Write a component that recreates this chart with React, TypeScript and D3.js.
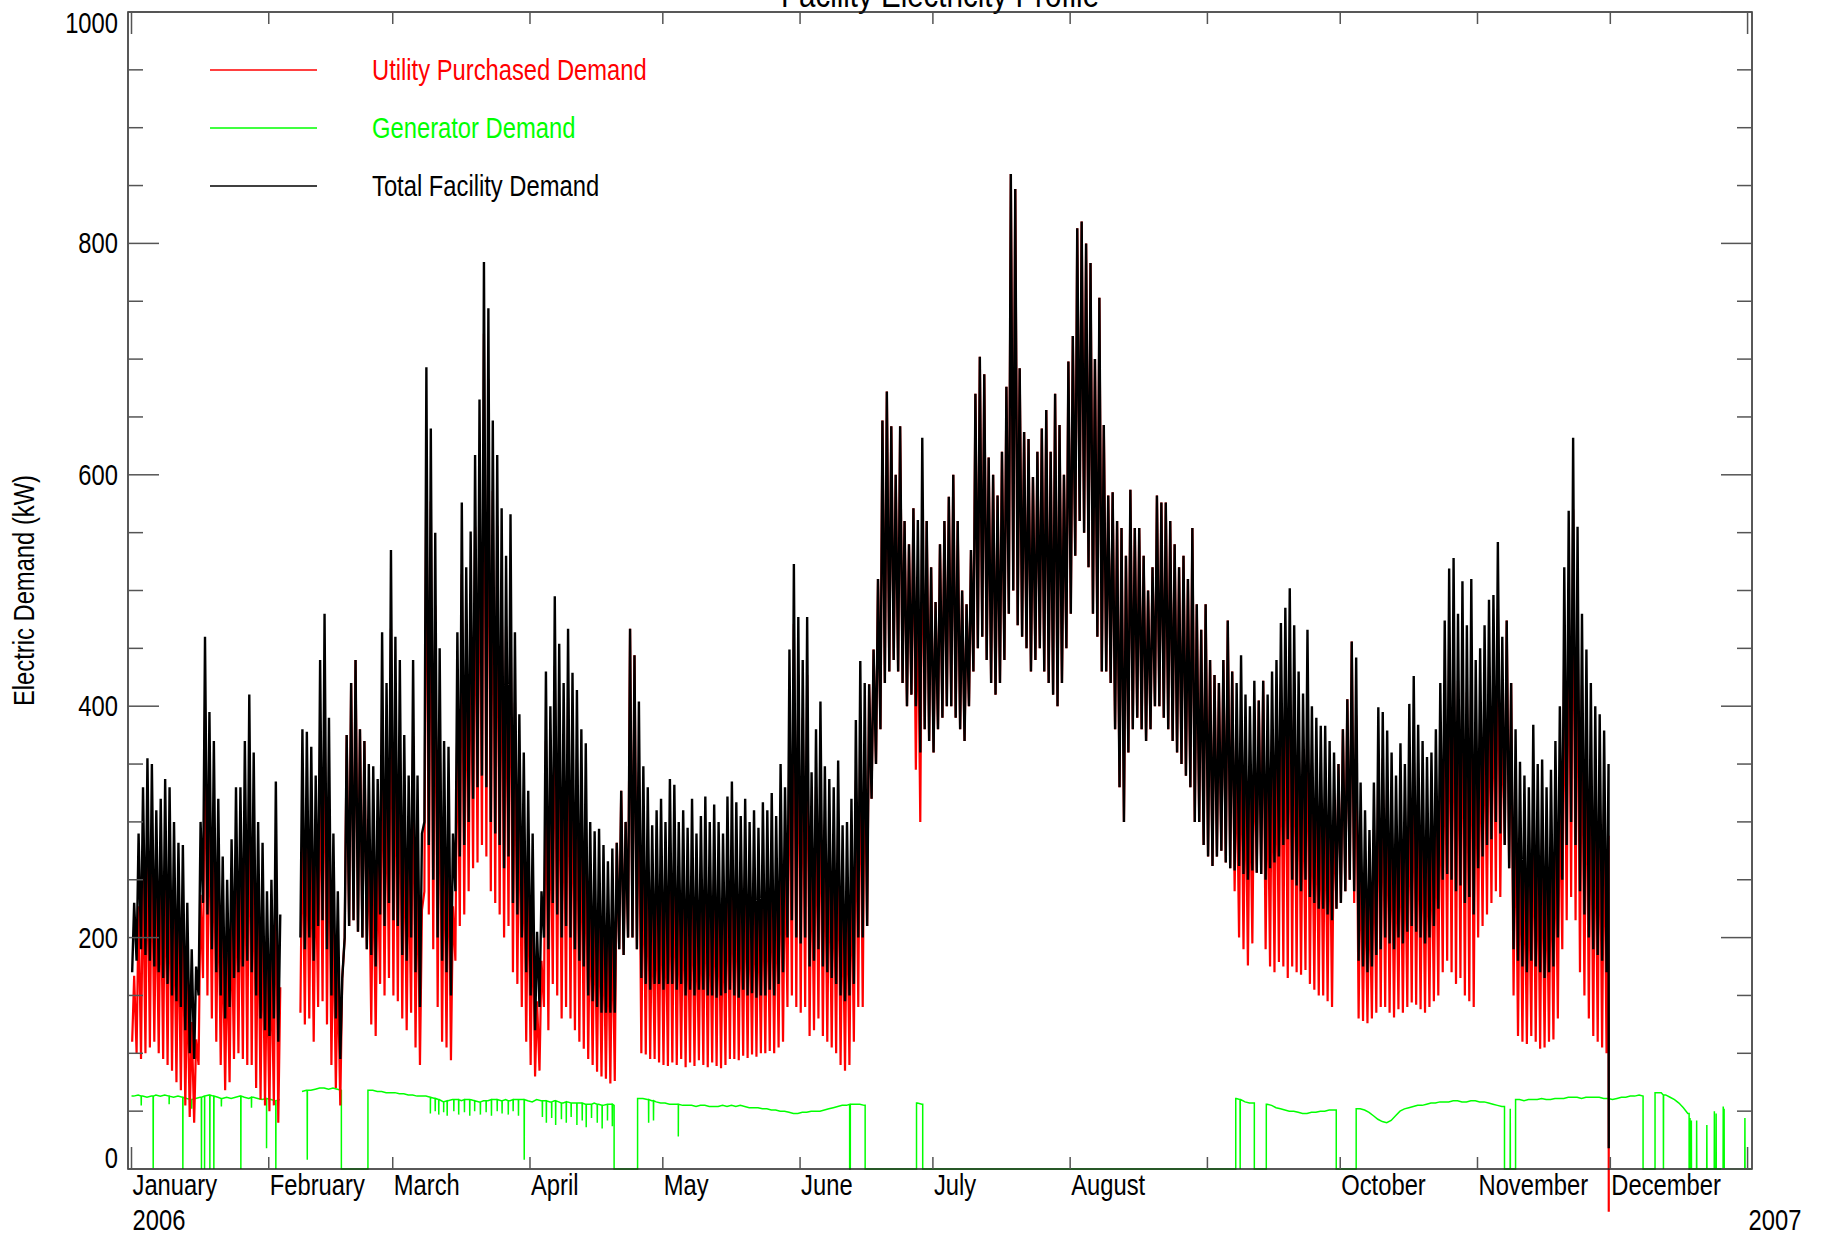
"use client"

import { useEffect, useRef } from "react"
import * as d3 from "d3"

const WIDTH = 1826
const HEIGHT = 1238
const FONT = '"Liberation Sans", Arial, sans-serif'
const NARROW = 0.82 // horizontal squeeze to get the narrow face of the original

// one value per day of 2006 (index 0 = Jan 1); null = no data
const totalPeak: (number | null)[] = [
  230, 290, 330, 355, 350, 310, 320,
  337, 330, 300, 282, 280, 230, 190,
  175, 300, 460, 395, 370, 320, 270,
  250, 285, 330, 330, 370, 410, 360,
  300, 282, 240, 250, 335, 220, null,
  null, null, null, 380, 378, 365, 340,
  440, 480, 390, 290, 240, 165, 375,
  420, 440, 380, 370, 350, 348, 337,
  464, 420, 535, 460, 440, 375, 340,
  440, 340, 290, 693, 640, 550, 450,
  370, 365, 290, 464, 576, 520, 551,
  617, 665, 784, 744, 647, 617, 571,
  530, 566, 464, 393, 360, 327, 290,
  205, 240, 430, 400, 495, 454, 420,
  467, 429, 414, 380, 368, 300, 292,
  294, 280, 266, 277, 282, 327, 300,
  467, 444, 404, 348, 330, 297, 310,
  320, 300, 337, 332, 300, 310, 295,
  320, 290, 305, 322, 300, 315, 300,
  290, 322, 335, 317, 305, 320, 300,
  310, 295, 317, 310, 325, 305, 350,
  330, 449, 523, 477, 440, 477, 343,
  380, 404, 348, 337, 330, 353, 297,
  300, 320, 388, 439, 420, 419, 449,
  510, 647, 672, 642, 600, 642, 560,
  540, 571, 561, 632, 560, 520, 490,
  540, 560, 581, 600, 560, 500, 488,
  535, 670, 702, 687, 615, 600, 582,
  620, 676, 860, 847, 692, 637, 631,
  598, 620, 640, 656, 620, 670, 643,
  600, 698, 720, 813, 819, 800, 783,
  700, 753, 643, 582, 585, 560, 554,
  530, 587, 554, 554, 530, 500, 520,
  582, 576, 576, 560, 540, 520, 530,
  510, 554, 488, 466, 488, 440, 427,
  420, 440, 474, 430, 420, 444, 410,
  400, 422, 405, 422, 410, 430, 440,
  472, 485, 502, 470, 430, 411, 466,
  400, 390, 383, 383, 370, 360, 350,
  380, 406, 456, 442, 334, 310, 293,
  334, 399, 395, 379, 360, 340, 368,
  350, 402, 426, 384, 370, 356, 360,
  380, 420, 474, 519, 528, 480, 508,
  470, 510, 440, 450, 470, 492, 496,
  542, 460, 474, 420, 380, 352, 340,
  330, 384, 350, 354, 330, 345, 370,
  400, 520, 569, 632, 555, 480, 449,
  420, 400, 393, 379, 350, null, null,
  null, null, null, null, null, null, null,
  null, null, null, null, null, null, null,
  null, null, null, null, null, null, null,
  null, null, null, null, null, null, null,
  null,
]

const totalBase: (number | null)[] = [
  170, 180, 190, 185, 180, 175, 170,
  165, 160, 150, 145, 140, 120, 100,
  95, 150, 230, 220, 190, 170, 150,
  130, 140, 165, 170, 175, 180, 170,
  150, 130, 120, 115, 130, 110, null,
  null, null, null, 200, 190, 200, 180,
  210, 215, 190, 150, 130, 95, 200,
  210, 215, 205, 200, 190, 185, 175,
  220, 210, 230, 215, 210, 185, 180,
  200, 170, 140, 300, 280, 250, 200,
  180, 170, 150, 240, 270, 280, 300,
  320, 330, 340, 330, 300, 290, 280,
  260, 270, 230, 220, 200, 170, 150,
  120, 140, 200, 190, 230, 220, 200,
  210, 200, 190, 180, 175, 150, 145,
  140, 135, 135, 135, 135, 190, 185,
  200, 200, 190, 165, 160, 155, 160,
  160, 155, 160, 160, 155, 160, 150,
  155, 150, 155, 155, 150, 150, 148,
  150, 152, 155, 150, 148, 155, 150,
  152, 148, 150, 150, 155, 150, 160,
  170, 200, 215, 200, 195, 200, 175,
  180, 190, 175, 170, 165, 160, 150,
  145, 150, 160, 200, 200, 210, 320,
  350, 380, 420, 430, 440, 430, 420,
  400, 410, 400, 360, 380, 370, 360,
  380, 390, 400, 400, 390, 380, 370,
  400, 430, 450, 460, 440, 420, 410,
  420, 440, 480, 500, 470, 460, 450,
  430, 440, 450, 430, 420, 410, 400,
  420, 450, 480, 530, 560, 550, 520,
  480, 460, 430, 430, 420, 380, 330,
  300, 360, 380, 390, 380, 370, 380,
  400, 400, 390, 380, 370, 360, 350,
  340, 330, 300, 300, 280, 270, 262,
  270, 275, 265, 260, 258, 262, 255,
  250, 258, 256, 255, 250, 260, 265,
  270, 280, 285, 250, 245, 240, 250,
  235, 230, 225, 225, 220, 215, 225,
  230, 240, 250, 240, 180, 175, 170,
  175, 185, 190, 200, 195, 190, 200,
  195, 205, 210, 205, 200, 195, 200,
  210, 225, 250, 255, 250, 240, 245,
  230, 235, 220, 260, 270, 280, 285,
  300, 290, 280, 260, 190, 180, 175,
  170, 180, 175, 170, 165, 170, 175,
  200, 250, 280, 300, 280, 240, 220,
  200, 190, 185, 180, 170, null, null,
  null, null, null, null, null, null, null,
  null, null, null, null, null, null, null,
  null, null, null, null, null, null, null,
  null, null, null, null, null, null, null,
  null,
]

const utilityPeak: (number | null)[] = [
  167, 227, 267, 292, 287, 247, 257,
  274, 267, 237, 219, 217, 167, 127,
  112, 237, 397, 332, 307, 257, 207,
  187, 222, 267, 267, 307, 347, 297,
  237, 219, 177, 187, 272, 157, null,
  null, null, null, 312, 310, 297, 272,
  372, 412, 322, 222, 172, 165, 375,
  420, 440, 380, 370, 282, 280, 269,
  396, 352, 467, 394, 374, 309, 274,
  374, 274, 224, 630, 577, 487, 387,
  307, 302, 227, 402, 514, 458, 489,
  555, 603, 722, 683, 586, 556, 510,
  469, 505, 403, 333, 300, 267, 230,
  145, 180, 370, 340, 435, 394, 360,
  407, 369, 354, 320, 308, 240, 232,
  234, 220, 206, 217, 282, 327, 300,
  467, 444, 343, 288, 270, 237, 250,
  260, 240, 277, 274, 242, 252, 237,
  262, 232, 247, 266, 244, 259, 244,
  234, 266, 279, 263, 251, 266, 246,
  256, 241, 263, 258, 273, 253, 298,
  278, 397, 471, 427, 390, 427, 293,
  330, 354, 298, 285, 278, 301, 245,
  248, 268, 336, 387, 368, 419, 449,
  510, 647, 672, 642, 600, 642, 560,
  540, 571, 503, 574, 560, 520, 490,
  540, 560, 581, 600, 560, 500, 488,
  535, 670, 702, 687, 615, 600, 582,
  620, 676, 860, 847, 692, 637, 631,
  598, 620, 640, 656, 620, 670, 643,
  600, 698, 720, 813, 819, 800, 783,
  700, 753, 643, 582, 585, 560, 554,
  530, 587, 554, 554, 530, 500, 520,
  582, 576, 576, 560, 540, 520, 530,
  510, 554, 488, 466, 488, 440, 427,
  420, 440, 474, 430, 358, 384, 352,
  343, 365, 405, 422, 353, 375, 386,
  419, 433, 451, 420, 381, 362, 417,
  350, 340, 333, 333, 320, 310, 350,
  380, 406, 456, 392, 284, 262, 250,
  294, 359, 355, 335, 313, 290, 316,
  296, 347, 370, 327, 313, 299, 303,
  323, 363, 417, 461, 470, 422, 450,
  412, 452, 382, 392, 412, 434, 440,
  484, 402, 474, 420, 320, 292, 280,
  270, 324, 290, 294, 270, 285, 310,
  338, 458, 507, 570, 493, 418, 387,
  358, 338, 331, 317, 288, null, null,
  null, null, null, null, null, null, null,
  null, null, null, null, null, null, null,
  null, null, null, null, null, null, null,
  null, null, null, null, null, null, null,
  null,
]

const utilityBase: (number | null)[] = [
  110, 100, 95, 100, 105, 110, 100,
  95, 90, 85, 75, 68, 55, 45,
  40, 90, 165, 150, 130, 110, 90,
  68, 75, 95, 100, 95, 90, 90,
  70, 60, 55, 50, 55, 40, null,
  null, null, null, 135, 125, 130, 110,
  140, 145, 125, 90, 70, 55, 200,
  210, 215, 205, 200, 190, 125, 115,
  160, 150, 165, 150, 145, 130, 120,
  135, 105, 90, 240, 220, 190, 140,
  110, 105, 94, 180, 210, 220, 240,
  260, 265, 280, 270, 240, 230, 220,
  200, 210, 170, 160, 140, 110, 90,
  80, 85, 140, 120, 160, 150, 130,
  140, 130, 120, 110, 104, 95, 90,
  84, 80, 78, 74, 76, 190, 185,
  200, 200, 190, 100, 99, 95, 95,
  92, 90, 89, 92, 90, 95, 88,
  92, 89, 94, 90, 88, 92, 89,
  87, 90, 95, 95, 94, 98, 96,
  99, 97, 100, 100, 102, 100, 105,
  110, 140, 150, 140, 135, 140, 115,
  120, 130, 115, 110, 105, 100, 90,
  85, 90, 110, 140, 140, 210, 320,
  350, 380, 420, 430, 440, 430, 420,
  400, 410, 345, 300, 380, 370, 360,
  380, 390, 400, 400, 390, 380, 370,
  400, 430, 450, 460, 440, 420, 410,
  420, 440, 480, 500, 470, 460, 450,
  430, 440, 450, 430, 420, 410, 400,
  420, 450, 480, 530, 560, 550, 520,
  480, 460, 430, 430, 420, 380, 330,
  300, 360, 380, 390, 380, 370, 380,
  400, 400, 390, 380, 370, 360, 350,
  340, 330, 300, 300, 280, 270, 262,
  270, 275, 265, 260, 240, 200, 190,
  176, 195, 256, 255, 190, 175, 170,
  179, 175, 165, 175, 170, 168, 172,
  160, 155, 150, 150, 145, 140, 225,
  230, 240, 250, 230, 130, 128, 126,
  130, 135, 140, 140, 135, 131, 138,
  135, 140, 144, 142, 138, 135, 140,
  145, 150, 170, 180, 170, 160, 165,
  150, 145, 140, 200, 210, 220, 230,
  240, 235, 280, 260, 150, 115, 110,
  108, 115, 110, 104, 105, 110, 112,
  130, 190, 215, 235, 215, 170, 150,
  130, 115, 110, 105, 100, null, null,
  null, null, null, null, null, null, null,
  null, null, null, null, null, null, null,
  null, null, null, null, null, null, null,
  null, null, null, null, null, null, null,
  null,
]

// daily generator output while running (kW)
const generatorLevel: (number | null)[] = [
  63, 64, 63, 62, 63, 64, 63,
  64, 63, 62, 63, 62, 61, 60,
  61, 62, 63, 64, 63, 62, 61,
  62, 61, 62, 63, 62, 61, 62,
  61, 60, 61, 60, 59, 60, null,
  null, null, null, 67, 68, 68, 69,
  70, 70, 69, 70, 69, 68, 0,
  0, 0, 0, 0, 68, 68, 67,
  67, 66, 66, 66, 65, 65, 64,
  64, 63, 63, 63, 62, 61, 60,
  58, 59, 60, 60, 59, 60, 60,
  59, 58, 59, 59, 60, 60, 59,
  60, 59, 60, 60, 60, 59, 58,
  60, 59, 59, 58, 59, 58, 57,
  58, 57, 57, 57, 56, 56, 57,
  56, 55, 56, 56, 55, 0, 0,
  0, 0, 61, 61, 60, 59, 58,
  57, 57, 56, 56, 56, 55, 55,
  55, 54, 55, 55, 54, 54, 54,
  55, 54, 55, 54, 55, 54, 53,
  53, 53, 52, 52, 51, 51, 50,
  50, 49, 48, 48, 49, 49, 50,
  50, 50, 51, 52, 53, 54, 55,
  55, 56, 56, 56, 55, 0, 0,
  0, 0, 0, 0, 0, 0, 0,
  0, 0, 57, 56, 0, 0, 0,
  0, 0, 0, 0, 0, 0, 0,
  0, 0, 0, 0, 0, 0, 0,
  0, 0, 0, 0, 0, 0, 0,
  0, 0, 0, 0, 0, 0, 0,
  0, 0, 0, 0, 0, 0, 0,
  0, 0, 0, 0, 0, 0, 0,
  0, 0, 0, 0, 0, 0, 0,
  0, 0, 0, 0, 0, 0, 0,
  0, 0, 0, 0, 0, 0, 0,
  0, 0, 0, 0, 61, 60, 58,
  57, 57, 0, 0, 56, 55, 53,
  52, 51, 50, 50, 49, 48, 48,
  49, 49, 50, 50, 51, 51, 51,
  0, 0, 0, 52, 52, 51, 49,
  46, 43, 41, 40, 42, 46, 50,
  52, 53, 54, 55, 55, 56, 57,
  57, 58, 58, 58, 59, 59, 58,
  58, 59, 59, 58, 58, 57, 56,
  55, 54, 54, 0, 60, 60, 59,
  60, 60, 60, 61, 60, 60, 61,
  61, 61, 62, 62, 62, 61, 62,
  62, 62, 62, 61, 61, 60, 61,
  62, 62, 63, 63, 64, 63, 0,
  0, 66, 66, 64, 62, 60, 57,
  53, 48, 0, 0, 0, 0, 0,
  0, 0, 0, 0, 0, 0, 0,
  0,
]

// periods (fractional day of year) with the generator shut down
const generatorOff: [number, number][] = [
  [47.4, 53.4], [109.0, 114.3], [162.2, 162.35], [165.7, 177.3], [178.7, 249.4],
  [253.6, 256.3], [272.1, 276.6], [310.1, 312.6], [341.4, 344.1], [351.8, 366],
]

// short excursions of the generator trace: [day, kW]
const generatorSpikes: [number, number][] = [
  [2.2, 55], [4.9, 0], [8.5, 56], [11.6, 0], [13.6, 52], [15.8, 0], [16.5, 0], [17.7, 0],
  [18.6, 0], [20.3, 54], [24.7, 0], [27.1, 53], [30.5, 18], [32.6, 0], [39.7, 8],
  [67.5, 48], [68.6, 50], [69.4, 47], [70.5, 49], [71.3, 46], [72.8, 50], [73.9, 47],
  [75.2, 49], [76.4, 46], [77.5, 50], [78.8, 47], [80.1, 49], [81.3, 46], [82.6, 50],
  [83.7, 48], [85.1, 47], [86.2, 50], [87.4, 46], [88.7, 8],
  [92.8, 45], [93.7, 40], [94.9, 44], [95.8, 38], [97.1, 43], [98.2, 40], [99.3, 45],
  [100.6, 38], [101.8, 42], [102.7, 36], [103.9, 44], [105.2, 40], [106.3, 35],
  [107.5, 42], [108.6, 37], [116.8, 40], [117.9, 42], [123.5, 28],
  [250.4, 0], [311.4, 52], [346.0, 0],
  [352.0, 44], [352.3, 42], [353.5, 42], [355.8, 38], [357.5, 50], [357.9, 48],
  [359.5, 54], [359.7, 52], [364.4, 44],
]

// last reading before the meter data stops
const finalReading = [{ day: 333.65, total: 18, utility: -37 }]

const monthLabels = ["January", "February", "March", "April", "May", "June", "July", "August", "", "October", "November", "December"]
const yearLabels = [{ day: 0, text: "2006" }, { day: 365, text: "2007" }]
const yTicks = [0, 200, 400, 600, 800, 1000]
const yMinorTicks = d3.range(50, 1000, 50).filter((v) => v % 200 !== 0)

const legendItems = [
  { label: "Utility Purchased Demand", color: "#ff0000" },
  { label: "Generator Demand", color: "#00ff00" },
  { label: "Total Facility Demand", color: "#000000" },
]

type Pt = { t: number; v: number | null }

const dayToDate = (d: number) => new Date(Date.UTC(2006, 0, 1) + d * 86400000)

function dailyTrace(base: (number | null)[], peak: (number | null)[]): Pt[] {
  const pts: Pt[] = []
  base.forEach((b, d) => {
    const p = peak[d]
    if (b == null || p == null) {
      pts.push({ t: d + 0.5, v: null })
      return
    }
    pts.push({ t: d + 0.15, v: b })
    pts.push({ t: d + 0.6, v: p })
  })
  return pts
}

function generatorTrace(): Pt[] {
  const isOff = (t: number) => generatorOff.some(([s, e]) => t > s && t < e)
  const levelAt = (t: number) => generatorLevel[Math.max(0, Math.min(364, Math.floor(t)))] ?? 0
  const pts: Pt[] = []
  generatorLevel.forEach((g, d) => {
    const t = d + 0.5
    if (g == null) pts.push({ t, v: null })
    else if (!isOff(t)) pts.push({ t, v: g })
  })
  pts.push({ t: 0, v: generatorLevel[0] })
  generatorOff.forEach(([s, e]) => {
    pts.push({ t: s - 0.002, v: levelAt(s) }, { t: s, v: 0 }, { t: e, v: 0 })
    if (e < 365) pts.push({ t: e + 0.002, v: levelAt(e) })
  })
  generatorSpikes.forEach(([t, v]) => {
    const b = isOff(t) ? 0 : levelAt(t)
    pts.push({ t: t - 0.03, v: b }, { t, v }, { t: t + 0.03, v: b })
  })
  return pts.sort((a, b) => a.t - b.t)
}

export default function App() {
  const svgRef = useRef<SVGSVGElement>(null)

  useEffect(() => {
    if (!svgRef.current) return
    const svg = d3.select(svgRef.current)
    svg.selectAll("*").remove()

    const left = 128
    const right = 1752
    const top = 12
    const bottom = 1169

    const x = d3
      .scaleUtc()
      .domain([new Date(Date.UTC(2005, 11, 31, 5)), new Date(Date.UTC(2007, 0, 2))])
      .range([left, right])
    const y = d3.scaleLinear().domain([0, 1000]).range([bottom, top])

    const line = d3
      .line<Pt>()
      .defined((p) => p.v != null)
      .x((p) => x(dayToDate(p.t)))
      .y((p) => y(p.v as number))

    // narrow text: squeeze horizontally around the anchor point
    const addText = (
      parent: d3.Selection<any, unknown, null, undefined>,
      tx: number,
      ty: number,
      str: string,
      opts: { anchor?: string; size?: number; color?: string; rotate?: number } = {}
    ) =>
      parent
        .append("text")
        .attr("transform", `translate(${tx},${ty})${opts.rotate ? ` rotate(${opts.rotate})` : ""} scale(${NARROW},1)`)
        .attr("text-anchor", opts.anchor ?? "start")
        .attr("font-family", FONT)
        .attr("font-size", opts.size ?? 29)
        .attr("fill", opts.color ?? "#000")
        .text(str)

    // Title (mostly above the page edge, as in the original)
    addText(svg, (left + right) / 2, 7, "Facility Electricity Profile", { anchor: "middle", size: 36 })

    // Series
    const utility = dailyTrace(utilityBase, utilityPeak)
    const total = dailyTrace(totalBase, totalPeak)
    finalReading.forEach((f) => {
      utility.push({ t: f.day, v: f.utility })
      total.push({ t: f.day, v: f.total })
    })
    utility.sort((a, b) => a.t - b.t)
    total.sort((a, b) => a.t - b.t)

    svg
      .append("path")
      .attr("d", line(generatorTrace()))
      .attr("fill", "none")
      .attr("stroke", "#00ff00")
      .attr("stroke-width", 1.5)

    svg
      .append("path")
      .attr("d", line(utility))
      .attr("fill", "none")
      .attr("stroke", "#ff0000")
      .attr("stroke-width", 2.2)
      .attr("stroke-linejoin", "bevel")

    svg
      .append("path")
      .attr("d", line(total))
      .attr("fill", "none")
      .attr("stroke", "#000")
      .attr("stroke-width", 2.4)
      .attr("stroke-linejoin", "bevel")

    // Frame
    svg
      .append("rect")
      .attr("x", left)
      .attr("y", top)
      .attr("width", right - left)
      .attr("height", bottom - top)
      .attr("fill", "none")
      .attr("stroke", "#222")
      .attr("stroke-width", 1.5)

    // Y ticks on both sides
    const tickG = svg.append("g").attr("stroke", "#555").attr("stroke-width", 1.5)
    yTicks.forEach((v) => {
      tickG.append("line").attr("x1", left).attr("x2", left + 31).attr("y1", y(v)).attr("y2", y(v))
      tickG.append("line").attr("x1", right).attr("x2", right - 31).attr("y1", y(v)).attr("y2", y(v))
    })
    yMinorTicks.forEach((v) => {
      tickG.append("line").attr("x1", left).attr("x2", left + 15).attr("y1", y(v)).attr("y2", y(v))
      tickG.append("line").attr("x1", right).attr("x2", right - 15).attr("y1", y(v)).attr("y2", y(v))
    })

    // Month ticks top and bottom
    const months = d3.utcMonth.range(dayToDate(0), dayToDate(366))
    months.forEach((m, i) => {
      const len = i === 0 || i === 12 ? 22 : 12
      const mx = x(m)
      tickG.append("line").attr("x1", mx).attr("x2", mx).attr("y1", bottom).attr("y2", bottom - len)
      tickG.append("line").attr("x1", mx).attr("x2", mx).attr("y1", top).attr("y2", top + len)
    })

    // Y labels
    const labelG = svg.append("g")
    yTicks.forEach((v) => {
      const dy = v === 0 ? -1 : v === 1000 ? 21 : 10
      addText(labelG, 118, y(v) + dy, String(v), { anchor: "end" })
    })

    // X labels
    months.slice(0, 12).forEach((m, i) => {
      if (monthLabels[i]) addText(labelG, x(m) + 1, 1195, monthLabels[i])
    })
    yearLabels.forEach((yl) => {
      addText(labelG, x(dayToDate(yl.day)) + 1, 1230, yl.text)
    })

    // Y axis title
    addText(labelG, 34, (top + bottom) / 2, "Electric Demand (kW)", { anchor: "middle", rotate: -90 })

    // Legend
    legendItems.forEach((item, i) => {
      const ly = 70 + i * 58
      svg
        .append("line")
        .attr("x1", 210)
        .attr("x2", 317)
        .attr("y1", ly)
        .attr("y2", ly)
        .attr("stroke", item.color)
        .attr("stroke-width", 1.3)
      addText(svg, 372, ly + 10, item.label, { color: item.color })
    })
  }, [])

  return (
    <svg
      ref={svgRef}
      width={WIDTH}
      height={HEIGHT}
      style={{ position: "absolute", left: 0, top: 0, display: "block", background: "#fff" }}
    />
  )
}
